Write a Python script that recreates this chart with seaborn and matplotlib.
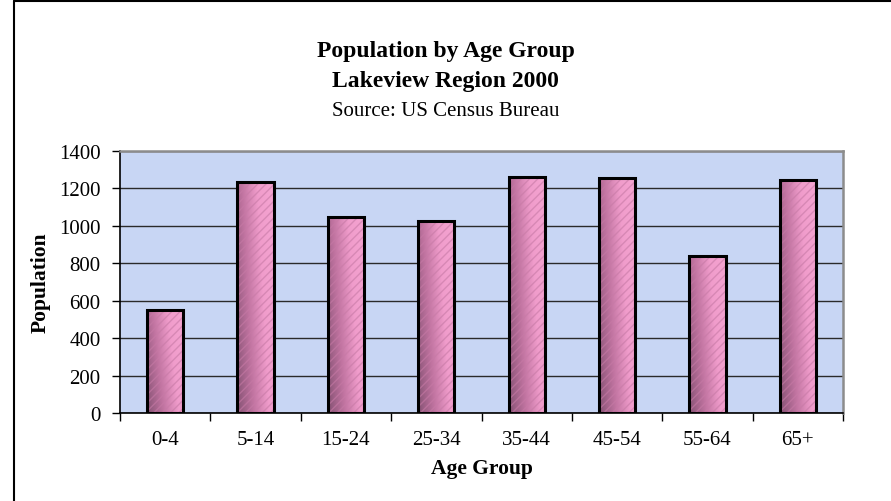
import numpy as np
import pandas as pd
import matplotlib
matplotlib.use("Agg")
import matplotlib.pyplot as plt
import seaborn as sns
from matplotlib.colors import LinearSegmentedColormap
from matplotlib.lines import Line2D

# data
age_groups = ["0-4", "5-14", "15-24", "25-34", "35-44", "45-54", "55-64", "65+"]
population = [553, 1233, 1045, 1025, 1263, 1255, 837, 1243]
y_ticks = [0, 200, 400, 600, 800, 1000, 1200, 1400]

df = pd.DataFrame({"age": age_groups, "pop": population})

sns.set_theme(style="white")
plt.rcParams["font.family"] = ["Liberation Serif", "DejaVu Serif"]
plt.rcParams["text.color"] = "black"
plt.rcParams["axes.labelcolor"] = "black"

fig = plt.figure(figsize=(8.91, 5.02), dpi=100)
ax = fig.add_axes([120 / 891, 1 - 414 / 502, (843 - 120) / 891, (414 - 152) / 502])
ax.set_facecolor("#c8d6f4")

# bar fill
sns.barplot(data=df, x="age", y="pop", ax=ax, width=0.4, color="#e890c0",
            saturation=1, linewidth=0, zorder=2)

# shaded gradient inside each bar (dark lower-left, light upper-right) + hatch + outline
cmap = LinearSegmentedColormap.from_list("bar", ["#6e4462", "#b66c98", "#f3a0cf", "#f8aad6"])
gx, gy = np.meshgrid(np.linspace(0, 1, 40), np.linspace(0, 1, 80))
grad = 0.75 * gx + 0.25 * gy
for p in list(ax.patches):
    x0, y0 = p.get_x(), p.get_y()
    w, h = p.get_width(), p.get_height()
    im = ax.imshow(grad, cmap=cmap, origin="lower", aspect="auto",
                   extent=[x0, x0 + w, y0, y0 + h], zorder=2.1, alpha=0.8,
                   interpolation="bilinear")
    im.set_clip_path(p)
    ax.add_patch(plt.Rectangle((x0, y0), w, h, fill=False, hatch="////",
                               edgecolor="#c77aa6", linewidth=0, zorder=2.2, alpha=0.6))
    ax.add_patch(plt.Rectangle((x0, y0), w, h, fill=False,
                               edgecolor="black", linewidth=2.2, zorder=3))

ax.set_xlim(-0.5, len(age_groups) - 0.5)
ax.set_ylim(0, 1400)
ax.set_yticks(y_ticks)
ax.set_yticklabels([str(v) for v in y_ticks])
ax.yaxis.grid(True, color="#2a2a2a", linewidth=1.0)
ax.set_axisbelow(True)

# category labels centered, tick marks between categories
ax.set_xticks(np.arange(-0.5, len(age_groups), 1.0))
ax.set_xticklabels([])
ax.set_xticks(np.arange(len(age_groups)), minor=True)
ax.set_xticklabels(age_groups, minor=True)
ax.tick_params(axis="x", which="minor", length=0, pad=12, labelsize=15, colors="black")
ax.tick_params(axis="x", which="major", length=6, width=1, direction="out", colors="black")
ax.tick_params(axis="y", length=6, width=1, direction="out", pad=8, labelsize=15, colors="black")
ax.tick_params(bottom=True, left=True)

for s in ["left", "bottom"]:
    ax.spines[s].set_color("black")
    ax.spines[s].set_linewidth(1.2)
for s in ["top", "right"]:
    ax.spines[s].set_color("#8c8c8c")
    ax.spines[s].set_linewidth(1.8)

ax.set_xlabel("Age Group", fontsize=15.5, fontweight="bold", labelpad=7)
ax.set_ylabel("Population", fontsize=15.5, fontweight="bold", labelpad=6)

fig.text(0.5, 1 - 52 / 502, "Population by Age Group", ha="center", va="center",
         fontsize=17, fontweight="bold")
fig.text(0.5, 1 - 82 / 502, "Lakeview Region 2000", ha="center", va="center",
         fontsize=17, fontweight="bold")
fig.text(0.5, 1 - 111 / 502, "Source: US Census Bureau", ha="center", va="center",
         fontsize=15)

# outer chart border
fig.add_artist(Line2D([14 / 891, 14 / 891], [0, 1 - 2 / 502], transform=fig.transFigure,
                      color="black", linewidth=1.5))
fig.add_artist(Line2D([14 / 891, 1], [1 - 2 / 502, 1 - 2 / 502], transform=fig.transFigure,
                      color="black", linewidth=1.5))

fig.savefig("out.png", dpi=100)
